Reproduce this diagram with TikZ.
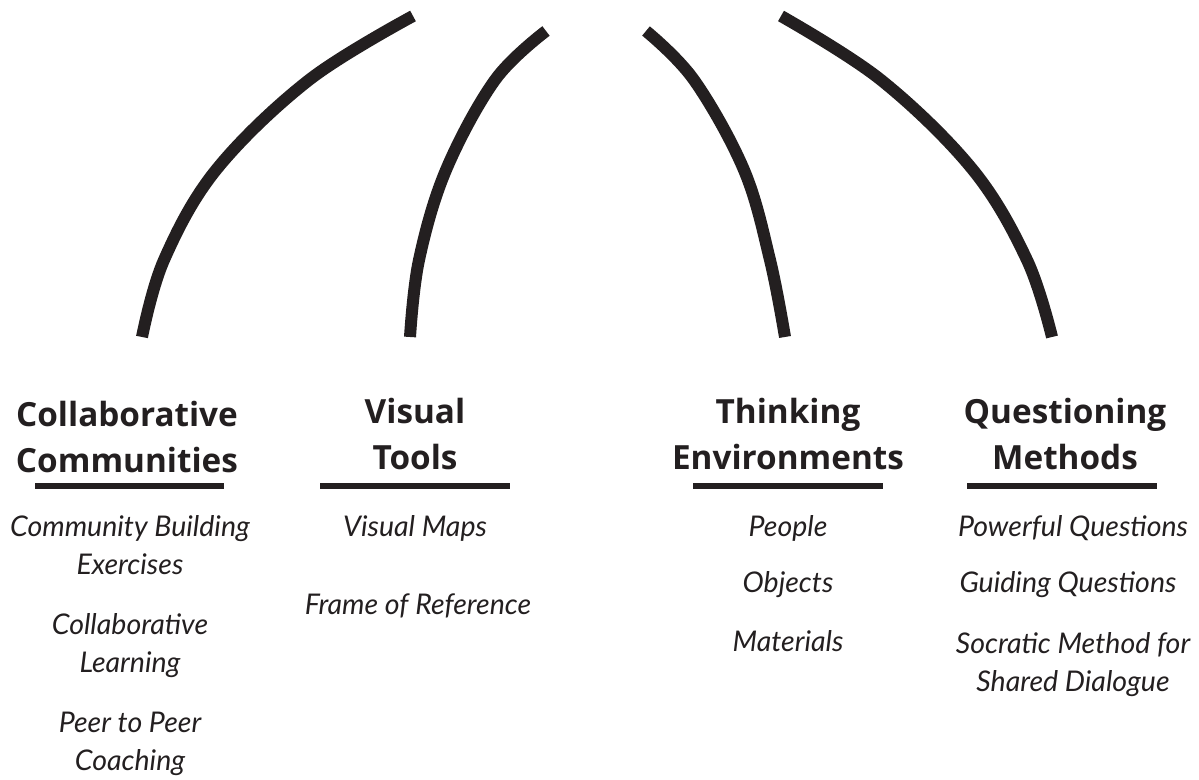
\documentclass[tikz,border=0pt]{standalone}
\usepackage{fontspec}
\setmainfont{Lato}
\newfontfamily\headfont{Open Sans}
\usepackage{tikz}
\definecolor{ink}{HTML}{231F20}

\begin{document}
\begin{tikzpicture}[x=1pt,y=1pt,line join=round,
        strand/.style={draw=ink,line width=12pt},
        bar/.style={draw=ink,line width=6pt},
        head/.style={anchor=base,align=center,text=ink,inner sep=0pt,
                font=\headfont\fontsize{33.3}{46}\selectfont\bfseries},
        item/.style={anchor=base,align=center,text=ink,inner sep=0pt,
                font=\fontsize{28.5}{38}\selectfont\itshape}] % four strands, four columns
        \useasboundingbox (0,0) rectangle (1199,779);
        % strand ends
        \coordinate (s1b) at (142,442); \coordinate (s1t) at (413,763);
        \coordinate (s2b) at (410,442); \coordinate (s2t) at (546,748);
        \coordinate (s3b) at (785,442); \coordinate (s3t) at (646,748);
        \coordinate (s4b) at (1052,442); \coordinate (s4t) at (781,763);
        \draw[strand] plot[smooth,tension=.6] coordinates {(s1b) (164,519) (216,609) (309,699) (s1t)};
        \draw[strand] plot[smooth,tension=.6] coordinates {(s2b) (419,519) (446,609) (495,699) (s2t)};
        \draw[strand] plot[smooth,tension=.6] coordinates {(s3b) (770,519) (744,609) (694,699) (s3t)};
        \draw[strand] plot[smooth,tension=.6] coordinates {(s4b) (1027,519) (973,609) (881,699) (s4t)};
        % headings (base = last line)
        \node[head] (collab) at (127,306) {Collaborative\\Communities};
        \node[head] (visual) at (415,309) {Visual\\Tools};
        \node[head] (think) at (788,309) {Thinking\\Environments};
        \node[head] (quest) at (1065,309) {Questioning\\Methods};
        \draw[bar] (35,293) -- (224,293);
        \draw[bar] (320,293) -- (510,293);
        \draw[bar] (693,293) -- (883,293);
        \draw[bar] (967,293) -- (1157,293);
        % items
        \node[item] (cbuild) at (130,204) {Community Building\\Exercises};
        \node[item] (clearn) at (130,106) {Collaborative\\Learning};
        \node[item] (ccoach) at (130,9) {Peer to Peer\\Coaching};
        \node[item] (vmaps) at (415,242) {Visual Maps};
        \node[item] (vframe) at (418,164) {Frame of Reference};
        \node[item] (tpeople) at (788,242) {People};
        \node[item] (tobj) at (788,186) {Objects};
        \node[item] (tmat) at (788,127) {Materials};
        \node[item] (qpow) at (1073,242) {Powerful Questions};
        \node[item] (qguide) at (1068,186) {Guiding Questions};
        \node[item] (qsocr) at (1073,87) {Socratic Method for\\Shared Dialogue};
\end{tikzpicture}
\end{document}
